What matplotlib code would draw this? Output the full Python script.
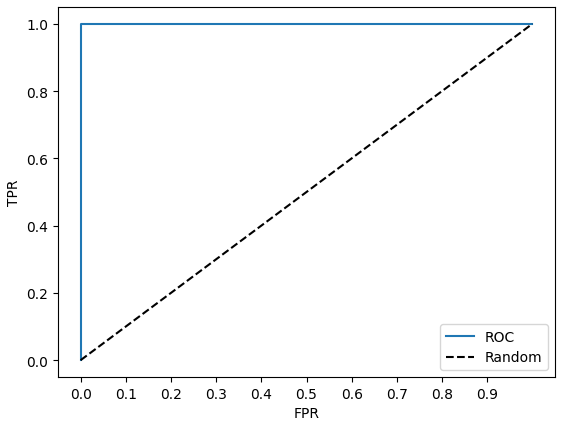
import numpy as np
import matplotlib
matplotlib.use("Agg")
import matplotlib.pyplot as plt

fpr = [0.0, 0.0, 1.0]
tpr = [0.0, 1.0, 1.0]
rand_x = [0.0, 1.0]
rand_y = [0.0, 1.0]
xticks = [0.0, 0.1, 0.2, 0.3, 0.4, 0.5, 0.6, 0.7, 0.8, 0.9]

W, H = 573, 427
fig = plt.figure(figsize=(W / 100, H / 100), dpi=100)
ax = fig.add_axes([58 / W, 1 - 378 / H, 497 / W, 370 / H])
ax.plot(fpr, tpr, label="ROC")
ax.plot(rand_x, rand_y, "k--", label="Random")
ax.set_xticks(xticks)
ax.set_xlabel("FPR")
ax.set_ylabel("TPR")
ax.legend(loc="lower right")
fig.savefig("out.png", dpi=100)
